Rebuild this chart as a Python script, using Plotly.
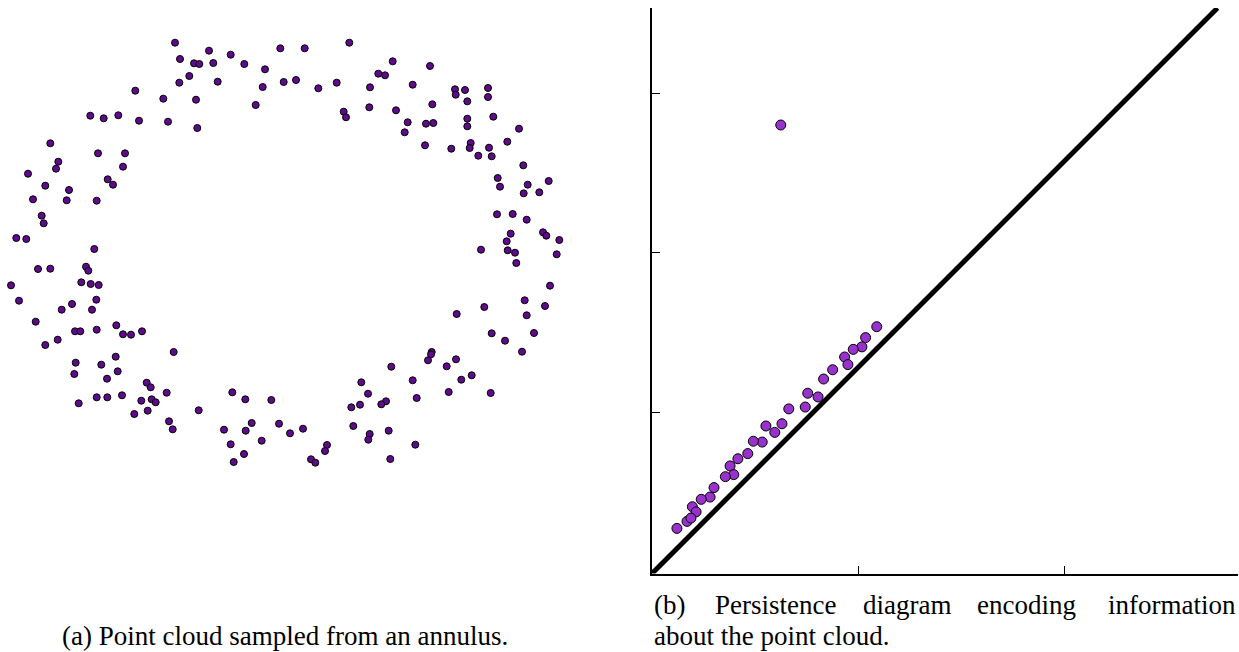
import plotly.graph_objects as go

# ---------------- Data ----------------
# (a) point cloud sampled from an annulus (units; y grows downward)
cloud_x = [175,180,189.3,179.3,135.3,163.3,90.3,103.7,118.3,139,168,50.3,98,125,58.3,56,123,28,107.7,113,45.3,69,33,66.7,96.7,41.7,43.7,16.3,26.3,94.3,
           349.3,209,280.3,304.7,230.7,194,199.3,213.3,244.3,265,217.7,262.7,283.7,296,318.3,336.7,370,196,255.7,343.7,346,369.3,197.3,
           392.7,430,378.3,385,412.7,455,455.7,465,488,488,467.3,432.3,396,407.7,426,433.3,467.3,467.3,493.3,404.7,519,425,451.3,470.7,469.7,489,507.3,478.3,491.7,523.3,497.7,500,527.7,548.7,523.7,539.3,497,512.7,526.7,510.7,506.7,543,546.3,559.3,
           38,50.3,86,88.3,11,81.3,90.7,98.7,19,96.3,72,61.7,92,35.7,116.3,75,80.3,96.7,123,131,142,57.7,45.3,173.7,115.7,75.7,101.3,74.3,117.7,107,146.7,150.7,166.7,96.7,107.3,122,78.7,141.3,151.7,155.7,147.7,134.3,169,172.7,
           361.3,368,232.3,245.3,271.3,198.7,351.3,360,251.7,224,245.7,279,290,303,353.3,369.7,368.3,230.7,261.7,327,325,244,233.7,311,315.3,
           481,507.7,515,556.7,516.3,550,524.7,545,484.3,526.7,456.7,491.7,534,505,522,431.7,431,428,456,446.7,391.3,471.7,412.7,461.3,448.7,490.7,416.7,386,381.3,388.7,415.3,390.3]
cloud_y = [42.7,59,76,82.7,90.7,98.7,115.7,118.3,115.3,120.7,121.7,143.3,153.3,153.3,161.7,168.7,166.7,173.7,179.3,184.7,185.7,190,199.3,200.3,200.7,215.7,223.3,238,239,249,
           42.7,50.7,48.3,48.3,54.7,63.3,64,63,64,69.3,81.7,87,82,80,88.3,82.7,87.3,99.7,105,111.7,117.3,107.3,128,
           61.3,66,73.7,75.3,84.7,89.3,94.7,90,88,97,101.3,104.3,110.3,122.3,123.7,123,118.7,126.3,116.7,132.3,128.7,145.3,148.7,143,148,147.7,141.7,155.7,156.3,165.3,178,186.7,184.7,181,193.3,192.3,214.3,214,219.7,233.7,241.3,232.3,235.7,240,
           269,268.7,266.7,270.7,285.3,282.3,284,285,300.7,299.7,304,309.7,309.7,321.7,325.3,331.3,331.3,329.7,334.3,334.7,331.3,339.7,345,352,356.7,362.7,364.7,374,371.3,378.7,382.7,387.3,392.7,397.3,397.3,395.3,403.3,400.7,399.3,402.3,410.7,414,421.3,429.3,
           382.3,393.7,392.3,399.3,400,410.3,407.3,404.7,423,429.7,430.7,423.7,433.3,428.7,426,434,439.7,444.3,440.7,445,451,454,462,459.3,462.7,
           249.7,250.3,252.7,254.3,263,285.7,300.3,306,307,315.3,314,333.3,333,340.7,351.7,352,354.3,360.3,359.3,366.3,366.7,375.3,380.3,379.7,392,393,398,401.3,404.3,430.7,444.7,459]

# (b) persistence diagram: birth / death pairs
birth = [1.091,1.037,1.019,0.977,0.935,0.951,0.877,0.833,0.756,0.806,0.744,0.664,0.631,0.553,0.596,
         0.535,0.492,0.465,0.417,0.379,0.397,0.356,0.301,0.282,0.239,0.196,0.214,0.170,0.189,0.121,0.625]
death = [1.198,1.145,1.100,1.088,1.051,1.014,0.989,0.944,0.875,0.857,0.808,0.799,0.727,0.716,0.685,
         0.638,0.642,0.582,0.557,0.522,0.480,0.470,0.417,0.371,0.360,0.324,0.299,0.253,0.269,0.219,2.177]
diag_end = 2.745
x_ticks = [1, 2]
y_ticks = [0.78, 1.56, 2.33]

caption_a = "(a) Point cloud sampled from an annulus."
caption_b_line1 = ["(b)", "Persistence", "diagram", "encoding", "information"]
caption_b_line2 = "about the point cloud."

# ---------------- Figure ----------------
W, H = 1239, 652
fig = go.Figure()

fig.add_trace(go.Scatter(
    x=cloud_x, y=cloud_y, mode="markers", xaxis="x2", yaxis="y2",
    marker=dict(size=7, color="#5f0a8c", line=dict(color="black", width=1)),
    hoverinfo="skip"))

fig.add_trace(go.Scatter(
    x=[0, diag_end], y=[0, diag_end], mode="lines",
    line=dict(color="black", width=5), hoverinfo="skip"))

fig.add_trace(go.Scatter(
    x=birth, y=death, mode="markers",
    marker=dict(size=10, color="#9932CC", line=dict(color="black", width=1)),
    hoverinfo="skip"))

axis_common = dict(showgrid=False, zeroline=False, showticklabels=False)

fig.update_layout(
    width=W, height=H,
    margin=dict(l=0, r=0, t=0, b=0),
    paper_bgcolor="white", plot_bgcolor="white",
    showlegend=False,
    xaxis=dict(domain=[652 / W, 1238 / W], range=[0, 586 / 206],
               showline=True, linewidth=2, linecolor="black",
               ticks="inside", ticklen=8, tickwidth=1, tickcolor="black",
               tickvals=x_ticks, **axis_common),
    yaxis=dict(domain=[78.5 / H, 644 / H], range=[0, diag_end],
               showline=True, linewidth=2, linecolor="black",
               ticks="inside", ticklen=8, tickwidth=1, tickcolor="black",
               tickvals=y_ticks, **axis_common),
    xaxis2=dict(domain=[0, 570 / W], range=[0, 570], showline=False,
                ticks="", anchor="y2", **axis_common),
    yaxis2=dict(domain=[(H - 475) / H, (H - 30) / H], range=[475, 30], showline=False,
                ticks="", anchor="x2", **axis_common),
)

font = dict(family="Liberation Serif", size=27, color="black")
ann = []
ann.append(dict(text=caption_a, x=284.5 / W, y=(H - 636) / H, xref="paper", yref="paper",
                xanchor="center", yanchor="middle", showarrow=False, font=font))
# justified first line of caption (b)
word_pos = [(651.5, "left"), (775, "center"), (907, "center"), (1026.5, "center"), (1238, "right")]
for w, (px, anc) in zip(caption_b_line1, word_pos):
    ann.append(dict(text=w, x=px / W, y=(H - 605) / H, xref="paper", yref="paper",
                    xanchor=anc, yanchor="middle", showarrow=False, font=font))
ann.append(dict(text=caption_b_line2, x=651.5 / W, y=(H - 636) / H, xref="paper", yref="paper",
                xanchor="left", yanchor="middle", showarrow=False, font=font))
fig.update_layout(annotations=ann)

fig.write_html("out.html")
